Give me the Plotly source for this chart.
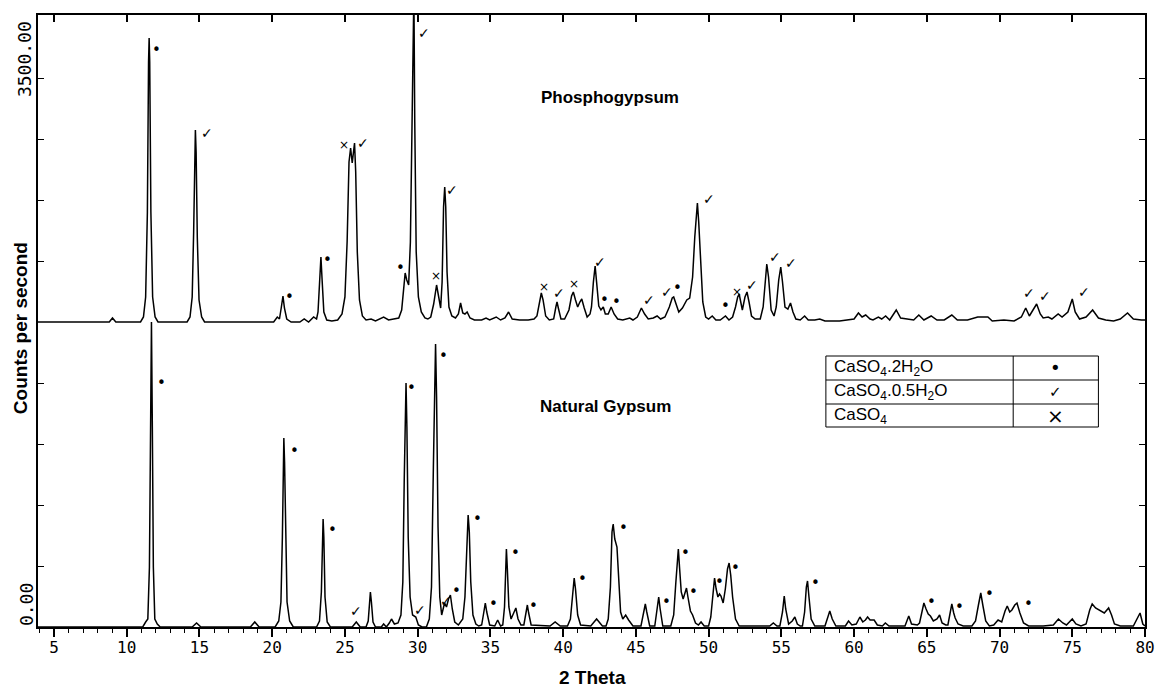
import plotly.graph_objects as go

# ---------------- data (2-theta in degrees, intensity in counts units) ----------------
NATURAL_PROFILE = [
    (3.9, 0), (11.1, 0), (11.3, 5), (11.45, 8), (11.56, 60), (11.64, 200), (11.7, 305), (11.76, 200),
    (11.83, 60), (11.93, 8), (12.1, 3), (12.3, 0),
    (14.5, 0), (14.8, 4), (15.1, 0),
    (18.5, 0), (18.8, 5), (19.1, 0),
    (20.2, 0), (20.45, 6), (20.6, 25), (20.7, 90), (20.77, 170), (20.8, 189), (20.85, 165), (20.92, 85),
    (21.02, 25), (21.2, 6), (21.45, 0),
    (23.05, 0), (23.25, 6), (23.38, 35), (23.46, 95), (23.5, 108), (23.55, 90), (23.63, 30), (23.78, 5), (24.0, 0),
    (25.5, 0), (25.78, 5), (26.05, 0),
    (26.45, 0), (26.6, 6), (26.7, 28), (26.75, 35), (26.82, 25), (26.93, 5), (27.1, 0),
    (27.5, 0), (27.66, 3), (27.85, 0), (28.05, 4), (28.2, 8), (28.4, 3),
    (28.65, 4), (28.85, 12), (28.98, 45), (29.08, 150), (29.15, 235), (29.2, 244), (29.26, 200), (29.35, 90),
    (29.48, 30), (29.65, 12), (29.87, 10), (30.05, 2), (30.3, 0),
    (30.6, 0), (30.8, 8), (30.95, 40), (31.08, 160), (31.17, 270), (31.23, 283), (31.3, 230), (31.4, 100),
    (31.52, 30), (31.65, 12), (31.85, 24), (31.98, 20), (32.12, 28), (32.25, 32), (32.38, 18), (32.55, 5), (32.8, 2),
    (33.1, 8), (33.25, 30), (33.38, 80), (33.47, 112), (33.55, 95), (33.65, 45), (33.8, 12), (34.0, 3), (34.2, 1),
    (34.4, 2), (34.55, 15), (34.65, 24), (34.75, 15), (34.95, 2),
    (35.3, 1), (35.5, 7), (35.7, 1),
    (35.85, 2), (35.97, 20), (36.05, 65), (36.1, 78), (36.16, 60), (36.27, 20), (36.42, 8), (36.6, 14),
    (36.75, 19), (36.9, 8), (37.1, 2),
    (37.3, 2), (37.45, 15), (37.54, 22), (37.63, 14), (37.8, 2),
    (39.1, 1), (39.45, 5), (39.8, 1),
    (40.3, 1), (40.5, 8), (40.65, 35), (40.76, 49), (40.85, 38), (41.0, 12), (41.2, 2),
    (41.9, 1), (42.3, 8), (42.5, 5), (42.7, 1),
    (42.95, 1), (43.1, 8), (43.25, 40), (43.36, 95), (43.44, 103), (43.55, 88), (43.7, 80), (43.82, 45),
    (43.95, 15), (44.1, 8), (44.3, 12), (44.5, 7), (44.8, 1),
    (45.35, 1), (45.55, 15), (45.65, 23), (45.75, 15), (45.95, 1),
    (46.3, 1), (46.47, 18), (46.57, 30), (46.67, 18), (46.85, 1),
    (47.4, 1), (47.6, 12), (47.75, 45), (47.85, 72), (47.92, 78), (48.0, 60), (48.12, 35), (48.25, 28),
    (48.4, 36), (48.48, 39), (48.58, 30), (48.75, 16), (48.9, 12), (49.1, 4), (49.3, 2), (49.48, 5), (49.7, 1),
    (50.0, 1), (50.15, 10), (50.3, 35), (50.41, 49), (50.52, 38), (50.64, 30), (50.75, 33), (50.85, 31),
    (51.0, 24), (51.15, 38), (51.3, 58), (51.41, 64), (51.52, 52), (51.65, 30), (51.85, 8), (52.1, 1),
    (54.2, 1), (54.45, 4), (54.7, 1),
    (54.9, 1), (55.08, 15), (55.2, 31), (55.3, 18), (55.5, 3), (55.75, 6), (55.93, 10), (56.1, 3), (56.3, 1),
    (56.45, 1), (56.6, 15), (56.72, 40), (56.8, 46), (56.9, 30), (57.05, 8), (57.3, 1),
    (58.0, 1), (58.2, 10), (58.33, 16), (58.5, 8), (58.75, 1),
    (59.4, 1), (59.62, 6), (59.85, 2), (60.15, 3), (60.4, 10), (60.6, 5), (60.78, 7), (60.93, 10), (61.1, 7),
    (61.38, 7), (61.6, 2), (61.95, 1), (62.15, 4), (62.4, 1),
    (63.5, 1), (63.76, 11), (63.95, 3), (64.35, 2),
    (64.5, 4), (64.7, 20), (64.8, 24), (64.95, 18), (65.1, 13), (65.25, 11), (65.45, 6), (65.7, 8), (65.88, 12),
    (66.05, 4), (66.3, 2),
    (66.45, 2), (66.62, 15), (66.72, 23), (66.85, 14), (66.95, 9), (67.15, 3), (67.5, 1),
    (68.1, 1), (68.35, 6), (68.55, 22), (68.71, 34), (68.85, 22), (69.05, 6), (69.3, 1),
    (69.6, 2), (69.9, 7), (70.15, 5), (70.38, 16), (70.53, 21), (70.7, 15), (70.85, 17), (71.05, 22), (71.2, 24),
    (71.4, 14), (71.65, 4), (72.0, 1),
    (73.0, 1), (73.7, 2), (74.05, 8), (74.35, 4), (74.6, 2), (75.0, 8), (75.25, 3), (75.6, 1),
    (75.95, 3), (76.2, 17), (76.37, 23), (76.6, 19), (76.93, 16), (77.2, 14), (77.5, 19), (77.7, 12), (77.9, 3), (78.3, 1),
    (79.2, 1), (79.45, 8), (79.66, 14), (79.85, 3), (80.0, 1),
]

PHOSPHO_PROFILE = [
    (3.9, 0), (8.8, 0), (9.02, 4), (9.25, 0),
    (10.95, 0), (11.15, 5), (11.3, 25), (11.42, 110), (11.5, 260), (11.54, 284), (11.58, 260), (11.66, 110),
    (11.78, 25), (11.95, 5), (12.15, 0),
    (14.15, 0), (14.35, 5), (14.5, 25), (14.6, 90), (14.68, 175), (14.72, 192), (14.77, 170), (14.85, 85),
    (14.97, 22), (15.15, 5), (15.35, 0),
    (20.1, 0), (20.35, 5), (20.5, 3), (20.63, 15), (20.74, 26), (20.84, 14), (21.0, 3), (21.3, 0),
    (21.9, 0), (22.2, 3), (22.5, 0), (22.85, 5), (23.05, 3),
    (23.15, 10), (23.27, 45), (23.35, 65), (23.42, 45), (23.55, 10), (23.75, 2), (24.1, 1),
    (24.5, 2), (24.8, 8), (25.0, 25), (25.15, 80), (25.28, 160), (25.39, 174), (25.5, 159), (25.6, 176),
    (25.66, 179), (25.74, 150), (25.85, 70), (26.0, 22), (26.2, 6), (26.45, 2),
    (26.8, 3), (27.1, 1), (27.66, 5), (28.0, 2), (28.3, 3),
    (28.7, 4), (28.9, 12), (29.02, 35), (29.14, 49), (29.25, 42), (29.38, 37), (29.5, 80), (29.6, 220),
    (29.68, 330), (29.74, 330), (29.8, 200), (29.9, 70), (30.05, 25), (30.25, 10), (30.5, 4), (30.7, 3),
    (30.9, 5), (31.1, 18), (31.3, 37), (31.45, 25), (31.58, 14), (31.68, 40), (31.78, 115), (31.86, 135),
    (31.93, 115), (32.02, 50), (32.15, 15), (32.35, 6), (32.6, 4),
    (32.8, 8), (32.95, 19), (33.1, 9), (33.25, 8), (33.4, 10), (33.6, 4), (33.9, 2),
    (34.4, 2), (34.7, 4), (34.95, 2), (35.4, 5), (35.7, 2), (36.0, 4), (36.25, 10), (36.5, 3), (37.0, 2),
    (37.6, 2), (38.0, 3),
    (38.2, 6), (38.38, 22), (38.5, 29), (38.62, 22), (38.8, 6), (39.05, 2),
    (39.35, 3), (39.5, 15), (39.58, 20), (39.67, 14), (39.85, 3),
    (40.1, 3), (40.4, 12), (40.58, 26), (40.7, 30), (40.85, 22), (41.0, 15), (41.15, 20), (41.28, 23),
    (41.45, 14), (41.65, 5), (41.85, 8),
    (41.95, 15), (42.08, 40), (42.2, 56), (42.3, 40), (42.45, 16), (42.6, 12), (42.76, 15), (42.9, 8),
    (43.1, 8), (43.3, 15), (43.5, 8), (43.75, 3), (44.1, 2),
    (44.58, 4), (44.8, 2), (45.1, 5), (45.38, 14), (45.6, 8), (45.85, 3), (46.2, 4), (46.46, 6), (46.7, 3),
    (47.0, 5), (47.3, 15), (47.5, 24), (47.6, 25), (47.8, 15), (47.95, 10), (48.2, 14), (48.5, 22), (48.7, 24),
    (48.9, 45), (49.05, 85), (49.18, 115), (49.23, 119), (49.32, 100), (49.45, 55), (49.6, 20), (49.8, 5),
    (50.0, 3), (50.25, 6), (50.5, 2),
    (50.8, 2), (51.16, 6), (51.4, 2), (51.65, 5), (51.85, 15), (52.0, 25), (52.1, 28), (52.22, 18), (52.32, 12),
    (52.5, 25), (52.64, 30), (52.78, 20), (52.95, 6), (53.2, 3),
    (53.55, 3), (53.75, 15), (53.9, 45), (54.0, 58), (54.12, 45), (54.3, 12), (54.5, 6), (54.65, 15),
    (54.82, 42), (54.96, 55), (55.08, 40), (55.25, 15), (55.45, 13), (55.63, 19), (55.8, 10), (56.0, 3),
    (56.3, 2), (56.6, 6), (56.85, 2),
    (57.3, 2), (57.64, 3), (58.0, 1), (59.0, 1), (59.5, 2), (60.0, 3), (60.3, 9), (60.55, 5), (60.8, 7),
    (61.1, 3), (61.3, 2), (61.67, 5), (61.9, 3), (62.17, 6), (62.45, 2), (62.9, 12), (63.2, 4), (63.65, 3),
    (64.1, 2), (64.45, 7), (64.8, 2), (65.3, 6), (65.7, 2), (66.2, 2), (66.72, 7), (67.1, 2), (67.8, 2),
    (68.5, 5), (69.2, 5), (69.5, 1), (70.3, 2), (71.0, 1), (71.5, 5), (71.8, 14), (72.05, 6), (72.3, 12),
    (72.55, 18), (72.8, 8), (73.0, 4), (73.35, 5), (73.6, 3), (74.03, 8), (74.3, 5), (74.7, 10), (75.0, 23),
    (75.2, 10), (75.5, 3), (75.95, 5), (76.4, 12), (76.8, 4), (77.3, 2), (77.84, 1), (78.3, 3), (78.8, 9),
    (79.2, 3), (79.75, 2), (80.0, 2),
]

# phase labels: (2-theta, height, phase)  D = CaSO4.2H2O, H = CaSO4.0.5H2O, A = CaSO4
PHOSPHO_LABELS = [
    (12.02, 272, "D"), (15.49, 189, "H"), (21.21, 25, "D"), (23.80, 62, "D"), (24.96, 177, "A"),
    (26.25, 179, "H"), (30.41, 289, "H"), (28.84, 54, "D"), (31.29, 46, "A"), (32.38, 132, "H"),
    (38.65, 35, "A"), (39.74, 29, "H"), (40.76, 38, "A"), (42.53, 60, "H"), (42.87, 22, "D"),
    (43.69, 20, "D"), (45.87, 22, "H"), (47.17, 30, "H"), (47.85, 34, "D"), (50.03, 123, "H"),
    (51.19, 16, "D"), (51.94, 30, "A"), (52.96, 37, "H"), (54.59, 65, "H"), (55.68, 59, "H"),
    (72.03, 29, "H"), (73.12, 26, "H"), (75.78, 30, "H"),
]
NATURAL_LABELS = [
    (12.36, 244, "D"), (21.55, 176, "D"), (24.14, 97, "D"), (25.78, 16, "H"), (29.59, 239, "D"),
    (30.14, 17, "H"), (31.77, 271, "D"), (31.98, 26, "H"), (32.66, 36, "D"), (34.09, 108, "D"),
    (35.18, 23, "D"), (36.74, 74, "D"), (37.97, 21, "D"), (41.31, 48, "D"), (44.17, 99, "D"),
    (47.10, 25, "D"), (48.39, 74, "D"), (48.94, 35, "D"), (50.78, 45, "D"), (51.87, 59, "D"),
    (57.38, 44, "D"), (65.35, 25, "D"), (67.26, 20, "D"), (69.31, 33, "D"), (71.96, 23, "D"),
]

X_TICKS = list(range(5, 81, 5))
Y_TICKS = [61, 122, 183, 244, 366, 427, 488, 549]
Y_TICK_TEXT = {"top": "3500.00", "bottom": "0.00"}
LEGEND_ROWS = ["CaSO<sub>4</sub>.2H<sub>2</sub>O", "CaSO<sub>4</sub>.0.5H<sub>2</sub>O", "CaSO<sub>4</sub>"]
PHASE_SYMBOL = {"D": "•", "H": "✓", "A": "×"}

# ---------------- layout constants ----------------
TOP_OFFSET = 305
X_RANGE = [3.9, 80]
Y_RANGE = [0, 612]
W, H = 1167, 689
ML, MR, MT, MB = 38, 12, 15, 62
PW, PH = W - ML - MR, H - MT - MB


def px_to_paper(px, py):
    return (px - ML) / PW, (H - MB - py) / PH


nat_x = [p[0] for p in NATURAL_PROFILE]
nat_y = [p[1] for p in NATURAL_PROFILE]
pho_x = [p[0] for p in PHOSPHO_PROFILE]
pho_y = [p[1] + TOP_OFFSET for p in PHOSPHO_PROFILE]

fig = go.Figure()
line = dict(color="black", width=1.5)
fig.add_trace(go.Scatter(x=nat_x, y=nat_y, mode="lines", line=line, hoverinfo="skip"))
fig.add_trace(go.Scatter(x=pho_x, y=pho_y, mode="lines", line=line, hoverinfo="skip"))
# invisible helper so the top (mirror) tick axis is drawn
fig.add_trace(go.Scatter(x=[X_RANGE[0]], y=[0], xaxis="x2", mode="markers",
                         marker=dict(opacity=0), hoverinfo="skip"))

annotations = []
sym_font = {"D": 15, "H": 14, "A": 12}
for labels, off in ((PHOSPHO_LABELS, TOP_OFFSET), (NATURAL_LABELS, 0)):
    for th, h, ph in labels:
        annotations.append(dict(x=th, y=h + off, xref="x", yref="y", text=PHASE_SYMBOL[ph],
                                showarrow=False, xanchor="center", yanchor="middle",
                                font=dict(family="DejaVu Sans", size=sym_font[ph], color="black")))


def paper_text(txt, px, py, font, angle=0, xanchor="center"):
    xp, yp = px_to_paper(px, py)
    annotations.append(dict(x=xp, y=yp, xref="paper", yref="paper", text=txt, showarrow=False,
                            textangle=angle, xanchor=xanchor, yanchor="middle", font=font))


title_font = dict(family="Liberation Sans", size=17, color="black")
paper_text("<b>Phosphogypsum</b>", 615, 98, title_font)
paper_text("<b>Natural Gypsum</b>", 611, 407, title_font)
axis_font = dict(family="Liberation Sans", size=19, color="black")
paper_text("<b>2 Theta</b>", 598, 677, axis_font)
paper_text("<b>Counts per second</b>", 20, 328, axis_font, angle=-90)

mono = dict(family="DejaVu Sans Mono", size=18, color="black")
paper_text(Y_TICK_TEXT["top"], 25, 59, mono, angle=-90)
paper_text(Y_TICK_TEXT["bottom"], 26, 605, mono, angle=-90)

# legend table
box_l, box_r, box_div = 833, 1108, 1022
rows_y = [356, 380, 404, 427]
shapes = []
x0, y0 = px_to_paper(box_l, rows_y[0])
x1, y1 = px_to_paper(box_r, rows_y[-1])
shapes.append(dict(type="rect", xref="paper", yref="paper", x0=x0, x1=x1, y0=y1, y1=y0,
                   line=dict(color="black", width=1), fillcolor="white", layer="above"))
xd, _ = px_to_paper(box_div, 0)
shapes.append(dict(type="line", xref="paper", yref="paper", x0=xd, x1=xd, y0=y1, y1=y0,
                   line=dict(color="black", width=1)))
for ry in rows_y[1:-1]:
    _, yy = px_to_paper(0, ry)
    shapes.append(dict(type="line", xref="paper", yref="paper", x0=x0, x1=x1, y0=yy, y1=yy,
                       line=dict(color="black", width=1)))
leg_sym_size = {"D": 18, "H": 15, "A": 20}
leg_font = dict(family="Liberation Sans", size=17, color="black")
for i, (txt, ph) in enumerate(zip(LEGEND_ROWS, ["D", "H", "A"])):
    cy = (rows_y[i] + rows_y[i + 1]) / 2
    paper_text(txt, 839, cy, leg_font, xanchor="left")
    paper_text(PHASE_SYMBOL[ph], 1065, cy,
               dict(family="DejaVu Sans", size=leg_sym_size[ph], color="black"))

fig.update_layout(
    width=W, height=H,
    margin=dict(l=ML, r=MR, t=MT, b=MB),
    plot_bgcolor="white", paper_bgcolor="white",
    showlegend=False,
    annotations=annotations,
    shapes=shapes,
    xaxis=dict(range=X_RANGE, showline=True, linecolor="black", linewidth=1.5, mirror=True,
               ticks="outside", ticklen=8, tickwidth=1.5, tickcolor="black",
               tickvals=X_TICKS, ticktext=[str(v) for v in X_TICKS], ticklabelstandoff=-3,
               tickfont=dict(family="DejaVu Sans Mono", size=16, color="black"),
               showgrid=False, zeroline=False,
               minor=dict(tickvals=list(range(4, 81)), ticks="outside", ticklen=4, tickwidth=1,
                          tickcolor="black", showgrid=False)),
    xaxis2=dict(range=X_RANGE, overlaying="x", side="top", anchor="y", ticks="inside", ticklen=7,
                tickwidth=1.5, tickcolor="black", tickvals=X_TICKS, showticklabels=False,
                showline=False, showgrid=False, zeroline=False),
    yaxis=dict(range=Y_RANGE, showline=True, linecolor="black", linewidth=1.5, mirror="ticks",
               ticks="inside", ticklen=6, tickwidth=1, tickcolor="black", tickvals=Y_TICKS,
               showticklabels=False, showgrid=False, zeroline=False),
)

fig.write_html("out.html")
